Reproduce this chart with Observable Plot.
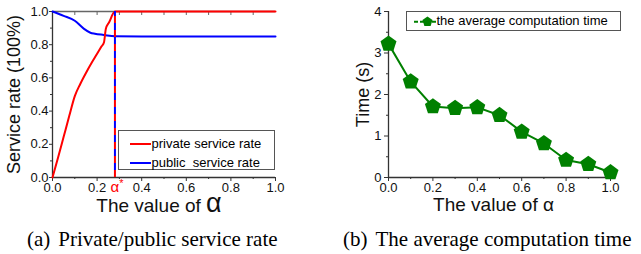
<!DOCTYPE html>
<html><head><meta charset="utf-8">
<script src="https://cdn.jsdelivr.net/npm/d3@7"></script>
<script src="https://cdn.jsdelivr.net/npm/@observablehq/plot@0.6"></script>
<style>
body{margin:0;background:#fff}
#wrap{position:relative;width:641px;height:254px;overflow:hidden;font-family:"Liberation Sans",Arial,sans-serif;color:#000;background:#fff}
.panel{position:absolute;top:0}
.legend{position:absolute;border:1.3px solid #555;box-sizing:border-box;background:#fff;font-size:13px;font-family:"Liberation Sans",Arial,sans-serif}
.legend span{position:absolute;white-space:pre;line-height:16px}
.legend svg{position:absolute;overflow:visible}
.cap{position:absolute;font-family:"Liberation Serif","Times New Roman",serif;font-size:21px;white-space:pre;line-height:21px}
</style></head><body>
<div id="wrap">
 <div id="pa" class="panel" style="left:0"></div>
 <div id="pb" class="panel" style="left:320px"></div>
 <div id="lega" class="legend" style="left:118px;top:130px;width:157px;height:40px"></div>
 <div id="legb" class="legend" style="left:406px;top:11px;width:215px;height:20px"></div>
 <div id="capa" class="cap" style="left:27px;top:229px"></div>
 <div id="capb" class="cap" style="left:343px;top:229px"></div>
</div>
<script>
// ---------- data ----------
const privAlpha = [0, 0.025, 0.05, 0.075, 0.1, 0.125, 0.15, 0.175, 0.2, 0.22, 0.231, 0.239, 0.254, 0.28, 0.4, 0.6, 0.8, 1.0];
const privRate  = [0, 0.12, 0.245, 0.37, 0.49, 0.565, 0.63, 0.69, 0.745, 0.79, 0.815, 0.895, 0.935, 1.0, 1.0, 1.0, 1.0, 1.0];
const pubAlpha  = [0, 0.05, 0.1, 0.14, 0.17, 0.19, 0.23, 0.28, 0.4, 0.6, 0.8, 1.0];
const pubRate   = [1.0, 0.974, 0.944, 0.897, 0.872, 0.866, 0.859, 0.851, 0.85, 0.85, 0.85, 0.85];
const alphaStar = 0.28;
const seriesNamesA = ["private service rate", "public  service rate"];
const seriesColorsA = ["#ff0000", "#0000ff"];

const alphaB = [0, 0.1, 0.2, 0.3, 0.4, 0.5, 0.6, 0.7, 0.8, 0.9, 1.0];
const timeB  = [3.22, 2.31, 1.71, 1.67, 1.69, 1.50, 1.10, 0.82, 0.42, 0.32, 0.12];
const seriesNameB = "the average computation time";
const greenB = "#008000";

const xMajor = [0, 0.2, 0.4, 0.6, 0.8, 1.0];
const xMinor = [0.1, 0.3, 0.5, 0.7, 0.9];
const yMajorA = [0, 0.2, 0.4, 0.6, 0.8, 1.0];
const yMinorA = [0.1, 0.3, 0.5, 0.7, 0.9];
const yMajorB = [0, 1, 2, 3, 4];
const yMinorB = [0.5, 1.5, 2.5, 3.5];
const xTitle = "The value of α";
const yTitleA = "Service rate (100%)";
const yTitleB = "Time (s)";
const captionA = ["(a)", "Private/public service rate"];
const captionB = ["(b)", "The average computation time"];

// ---------- helpers ----------
const pentagon = {
  draw(ctx, size) {
    const R = Math.sqrt(size / Math.PI);
    for (let k = 0; k < 5; k++) {
      const a = -Math.PI / 2 + k * 2 * Math.PI / 5;
      const px = R * Math.cos(a), py = R * Math.sin(a);
      if (k === 0) ctx.moveTo(px, py); else ctx.lineTo(px, py);
    }
    ctx.closePath();
  }
};
const axisCol = "#333";
const font = "'Liberation Sans', Arial, sans-serif";

// ---------- panel A ----------
const privData = privAlpha.map((a, i) => ({a, v: privRate[i]}));
const pubData = pubAlpha.map((a, i) => ({a, v: pubRate[i]}));
const hA = 215, mtA = 11, mbA = 38;
const chartA = Plot.plot({
  width: 320, height: hA, marginLeft: 52, marginRight: 45, marginTop: mtA, marginBottom: mbA,
  style: {fontFamily: font, fontSize: "13px", color: "#111", background: "transparent", overflow: "visible"},
  x: {domain: [0, 1]}, y: {domain: [0, 1]},
  marks: [
    Plot.ruleY([1], {stroke: "#666", strokeWidth: 1.3}),
    Plot.tickX(xMinor.concat(xMajor.slice(1, -1)), {x: d => d, stroke: "#666", insetBottom: hA - mtA - mbA - 4}),
    Plot.axisX(xMajor, {tickSize: 4, tickPadding: 1, tickFormat: d => d.toFixed(1), label: null, fontSize: 13, stroke: axisCol}),
    Plot.axisX(xMinor, {tickSize: 2, tickFormat: () => "", label: null, stroke: axisCol}),
    Plot.axisY(yMajorA, {tickSize: 3, tickPadding: 1, tickFormat: d => d.toFixed(1), label: null, fontSize: 13, stroke: axisCol}),
    Plot.axisY(yMinorA, {tickSize: 2, tickFormat: () => "", label: null, stroke: axisCol}),
    Plot.ruleX([0], {stroke: axisCol, strokeWidth: 1.3}),
    Plot.ruleY([0], {stroke: axisCol, strokeWidth: 1.3}),
    Plot.line(pubData, {x: "a", y: "v", stroke: seriesColorsA[1], strokeWidth: 2, curve: "monotone-x"}),
    Plot.line(privData, {x: "a", y: "v", stroke: seriesColorsA[0], strokeWidth: 2, curve: "monotone-x"}),
    Plot.ruleX([alphaStar], {y1: 0, y2: 1, stroke: seriesColorsA[1], strokeWidth: 2, strokeDasharray: "7,7", strokeDashoffset: 7}),
    Plot.ruleX([alphaStar], {y1: 0, y2: 1, stroke: seriesColorsA[0], strokeWidth: 2, strokeDasharray: "7,7"}),
    Plot.text([alphaStar], {x: d => d, frameAnchor: "bottom", lineAnchor: "middle", text: () => "α", dy: 9.5, fill: "#ff0000", fontSize: 15}),
    Plot.text([alphaStar], {x: d => d, frameAnchor: "bottom", lineAnchor: "middle", text: () => "*", dx: 6.5, dy: 6, fill: "#ff0000", fontSize: 11}),
    Plot.text([yTitleA], {frameAnchor: "left", textAnchor: "middle", lineAnchor: "middle", text: d => d, rotate: -90, dx: -38, fontSize: 18, fill: "#111"}),
    Plot.text([xTitle], {frameAnchor: "bottom", textAnchor: "middle", lineAnchor: "middle", text: d => d, dy: 28, dx: -5, fontSize: 19, fill: "#111"})
  ]
});
document.getElementById("pa").appendChild(chartA);
// enlarge the α in panel A's x title
d3.select(chartA).selectAll("text").each(function() {
  if (this.textContent === xTitle) {
    const t = d3.select(this);
    t.text(null);
    t.append("tspan").text(xTitle.slice(0, -1));
    t.append("tspan").attr("font-size", 27).text(xTitle.slice(-1));
  }
});

// ---------- panel B ----------
const dataB = alphaB.map((a, i) => ({a, t: timeB[i]}));
const chartB = Plot.plot({
  width: 321, height: 215, marginLeft: 68, marginRight: 31, marginTop: 11, marginBottom: 38,
  style: {fontFamily: font, fontSize: "13px", color: "#111", background: "transparent", overflow: "visible"},
  x: {domain: [0, 1]}, y: {domain: [0, 4]},
  marks: [
    Plot.axisX(xMajor, {tickSize: 4, tickPadding: 1, tickFormat: d => d.toFixed(1), label: null, fontSize: 13, stroke: axisCol}),
    Plot.axisX(xMinor, {tickSize: 2, tickFormat: () => "", label: null, stroke: axisCol}),
    Plot.axisY(yMajorB, {tickSize: 4, tickPadding: 3, tickFormat: d => String(d), label: null, fontSize: 13, stroke: axisCol}),
    Plot.axisY(yMinorB, {tickSize: 2, tickFormat: () => "", label: null, stroke: axisCol}),
    Plot.ruleX([0], {stroke: axisCol, strokeWidth: 1.3}),
    Plot.ruleY([0], {stroke: axisCol, strokeWidth: 1.3}),
    Plot.line(dataB, {x: "a", y: "t", stroke: greenB, strokeWidth: 2}),
    Plot.dot(dataB, {x: "a", y: "t", r: 8.4, symbol: pentagon, fill: greenB, stroke: "none"}),
    Plot.text([yTitleB], {frameAnchor: "left", textAnchor: "middle", lineAnchor: "middle", text: d => d, rotate: -90, dx: -25, fontSize: 18, fill: "#111"}),
    Plot.text([xTitle], {frameAnchor: "bottom", textAnchor: "middle", lineAnchor: "middle", text: d => d, dy: 27, dx: -6, fontSize: 19, fill: "#111"})
  ]
});
document.getElementById("pb").appendChild(chartB);

// ---------- legends ----------
const lega = d3.select("#lega");
seriesNamesA.forEach((name, i) => {
  const cy = i === 0 ? 12.5 : 31.5;
  const s = lega.append("svg").style("left", "11px").style("top", (cy - 2) + "px").attr("width", 21).attr("height", 4);
  s.append("line").attr("x1", 0).attr("x2", 21).attr("y1", 2).attr("y2", 2).attr("stroke", seriesColorsA[i]).attr("stroke-width", 2);
  lega.append("span").style("left", "32.5px").style("top", (cy - 8) + "px").text(name);
});
const legb = d3.select("#legb");
{
  const s = legb.append("svg").style("left", "6px").style("top", "0px").attr("width", 24).attr("height", 18);
  s.append("line").attr("x1", 1).attr("x2", 23).attr("y1", 9.7).attr("y2", 9.7).attr("stroke", greenB).attr("stroke-width", 2).attr("stroke-dasharray", "4,2,10,2,4");
  const p = d3.path(); pentagon.draw(p, Math.PI * 5.3 * 5.3);
  s.append("path").attr("d", p.toString()).attr("transform", "translate(14.5,9.7)").attr("fill", greenB);
  legb.append("span").style("left", "29.5px").style("top", "1px").text(seriesNameB);
}

// ---------- captions ----------
function cap(id, parts) {
  const c = d3.select(id);
  c.append("span").text(parts[0]);
  c.append("span").style("margin-left", "8px").text(parts[1]);
}
cap("#capa", captionA);
cap("#capb", captionB);
</script>
</body></html>
